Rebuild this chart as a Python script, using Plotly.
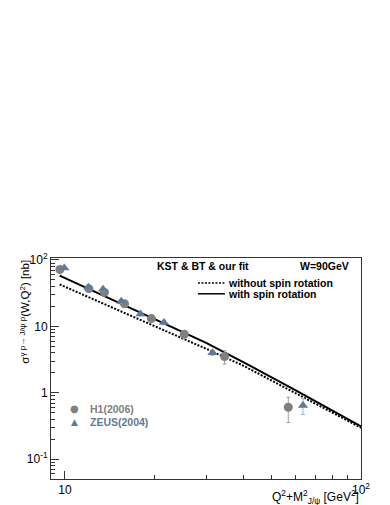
import plotly.graph_objects as go

# H1 (2006) points: Q^2 + M^2_J/psi [GeV^2], sigma [nb], error
h1_x = [9.62, 12.05, 13.6, 15.9, 19.6, 25.3, 34.6, 56.8]
h1_y = [72, 37, 32.5, 21.9, 13.1, 7.6, 3.5, 0.605]
h1_err = [4, 2.5, 2.2, 1.6, 1.0, 1.0, 0.8, 0.25]

# ZEUS (2004) points
zeus_x = [9.95, 12.0, 13.45, 15.5, 18.0, 21.6, 31.5, 63.7]
zeus_y = [76, 39, 36.2, 23.8, 15.3, 11.4, 4.0, 0.64]
zeus_err = [4, 2.5, 2.5, 1.6, 1.0, 0.8, 0.35, 0.17]

# model curves
fit_x = [9.6, 12, 15, 20, 30, 40, 60, 80, 100]
with_spin = [58, 37, 23.4, 13.0, 5.65, 2.9, 1.09, 0.54, 0.31]
without_spin = [42.8, 27.7, 17.9, 10.2, 4.59, 2.56, 1.0, 0.503, 0.296]

yticks = [0.1, 1, 10, 100]
yticklabels = ["10<sup>-1</sup>", "1", "10", "10<sup>2</sup>"]
xticks = [10, 100]
xticklabels = ["10", "10<sup>2</sup>"]

H1_COL = "#808080"
ZEUS_COL = "#5f7a94"
FONT = "Liberation Sans, Arial, sans-serif"

fig = go.Figure()

fig.add_trace(go.Scatter(x=fit_x, y=without_spin, mode="lines",
                         line=dict(color="black", width=2, dash="2px,1.5px"),
                         name="without spin rotation"))
fig.add_trace(go.Scatter(x=fit_x, y=with_spin, mode="lines",
                         line=dict(color="black", width=2),
                         name="with spin rotation"))

fig.add_trace(go.Scatter(x=h1_x, y=h1_y, mode="markers",
                         marker=dict(symbol="circle", size=9, color=H1_COL),
                         error_y=dict(type="data", array=h1_err, color="#a0a0a0",
                                      thickness=1, width=2),
                         name="H1(2006)"))
fig.add_trace(go.Scatter(x=zeus_x, y=zeus_y, mode="markers",
                         marker=dict(symbol="triangle-up", size=9, color=ZEUS_COL),
                         error_y=dict(type="data", array=zeus_err, color="#a0b4c8",
                                      thickness=1, width=2),
                         name="ZEUS(2004)"))

minor_x = [v * 10 ** k for k in (0, 1) for v in range(2, 10)]
minor_y = [v * 10 ** k for k in (-2, -1, 0, 1, 2) for v in range(2, 10)]

fig.update_xaxes(type="log", range=[0.953, 2.0], automargin=False,
                 tickvals=xticks, ticktext=xticklabels,
                 ticks="inside", ticklen=8, tickcolor="#333",
                 minor=dict(tickvals=minor_x, ticks="inside", ticklen=4, tickcolor="#333"),
                 showline=True, linecolor="#333", linewidth=1, mirror=True,
                 showgrid=False, zeroline=False,
                 tickfont=dict(family=FONT, size=12, color="black"))
fig.update_yaxes(type="log", range=[-1.3, 2.03], automargin=False,
                 tickvals=yticks, ticktext=yticklabels,
                 ticks="inside", ticklen=8, tickcolor="#333",
                 minor=dict(tickvals=minor_y, ticks="inside", ticklen=4, tickcolor="#333"),
                 showline=True, linecolor="#333", linewidth=1, mirror=True,
                 showgrid=False, zeroline=False,
                 tickfont=dict(family=FONT, size=12, color="black"))

bold = dict(family=FONT, size=10.5, color="black")
ann = [
    dict(x=0.335, y=0.964, text="<b>KST & BT & our fit</b>", xanchor="left"),
    dict(x=0.968, y=0.964, text="<b>W=90GeV</b>", xanchor="right"),
    dict(x=0.566, y=0.887, text="<b>without spin rotation</b>", xanchor="left"),
    dict(x=0.566, y=0.838, text="<b>with spin rotation</b>", xanchor="left"),
    dict(x=0.119, y=0.318, text="<b>H1(2006)</b>", xanchor="left",
         font=dict(family=FONT, size=10.5, color=H1_COL)),
    dict(x=0.119, y=0.257, text="<b>ZEUS(2004)</b>", xanchor="left",
         font=dict(family=FONT, size=10.5, color=ZEUS_COL)),
    dict(x=0.076, y=0.318, text="●", xanchor="center",
         font=dict(family="DejaVu Sans", size=10, color=H1_COL)),
    dict(x=0.076, y=0.257, text="▲", xanchor="center",
         font=dict(family="DejaVu Sans", size=9, color=ZEUS_COL)),
]
for a in ann:
    a.setdefault("font", bold)
    fig.add_annotation(xref="paper", yref="paper", yanchor="middle",
                       showarrow=False, **a)

# legend line samples
fig.add_shape(type="line", xref="paper", yref="paper", x0=0.474, x1=0.561,
              y0=0.887, y1=0.887, line=dict(color="black", width=1.5, dash="2px,1.5px"))
fig.add_shape(type="line", xref="paper", yref="paper", x0=0.474, x1=0.561,
              y0=0.838, y1=0.838, line=dict(color="black", width=1.5))

# axis titles
fig.add_annotation(xref="paper", yref="paper", x=-0.085, y=1.0, xanchor="center",
                   yanchor="top", textangle=-90, showarrow=False,
                   text="σ<sup>γ p→ J/ψ p</sup>(W,Q<sup>2</sup>) [nb]",
                   font=dict(family=FONT, size=11.5, color="black"))
fig.add_annotation(xref="paper", yref="paper", x=1.0, y=-0.082, xanchor="right",
                   yanchor="middle", showarrow=False,
                   text="Q<sup>2</sup>+M<sup>2</sup><sub>J/ψ</sub> [GeV<sup>2</sup>]",
                   font=dict(family=FONT, size=12, color="black"))

fig.update_layout(width=390, height=505, showlegend=False,
                  margin=dict(l=43, r=37, t=250, b=34),
                  plot_bgcolor="white", paper_bgcolor="white")

fig.write_html("out.html")
